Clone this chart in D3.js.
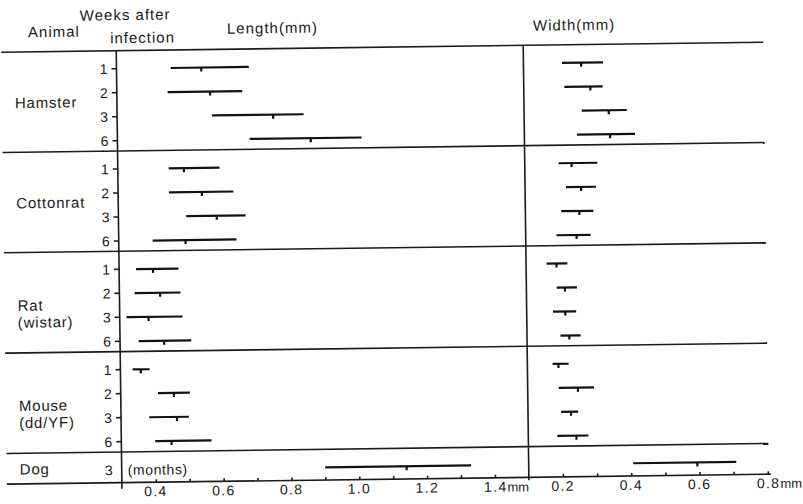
<!DOCTYPE html>
<html lang="en">
<head>
<meta charset="UTF-8">
<title>Length and width by animal</title>
<script src="https://d3js.org/d3.v7.min.js"></script>
<style>
  body { margin: 0; background: #fff; }
  svg { display: block; }
  text { font-family: "Liberation Sans", Arial, sans-serif; fill: #1b1b1b; }
  .rule { stroke: #1b1b1b; stroke-width: 1.6; fill: none; }
  .bar, .mean { stroke: #111; stroke-width: 2.2; }
</style>
</head>
<body>
<svg id="chart" width="803" height="504"></svg>
<script>
// sections
const animals = ["Hamster", "Cottonrat", "Rat\n(wistar)", "Mouse\n(dd/YF)", "Dog"];

// one entry per row: which animal, weeks after infection
const rowAnimal = [0, 0, 0, 0, 1, 1, 1, 1, 2, 2, 2, 2, 3, 3, 3, 3, 4];
const rowWeek   = ["1", "2", "3", "6", "1", "2", "3", "6", "1", "2", "3", "6", "1", "2", "3", "6", "3"];

// length (mm): range and mean
const lengthMin  = [0.46, 0.45, 0.58, 0.69, 0.45, 0.45, 0.50, 0.40, 0.35, 0.345, 0.32, 0.355, 0.336, 0.41, 0.383, 0.40, 0.90];
const lengthMean = [0.55, 0.575, 0.76, 0.87, 0.495, 0.547, 0.59, 0.497, 0.40, 0.42, 0.385, 0.43, 0.36, 0.457, 0.465, 0.448, 1.14];
const lengthMax  = [0.69, 0.67, 0.85, 1.02, 0.60, 0.64, 0.675, 0.647, 0.475, 0.48, 0.485, 0.51, 0.386, 0.504, 0.50, 0.566, 1.33];

// width (mm): range and mean
const widthMin  = [0.213, 0.219, 0.269, 0.254, 0.199, 0.22, 0.205, 0.19, 0.16, 0.189, 0.177, 0.198, 0.174, 0.191, 0.197, 0.185, 0.406];
const widthMean = [0.269, 0.295, 0.348, 0.351, 0.237, 0.264, 0.258, 0.249, 0.189, 0.213, 0.213, 0.224, 0.191, 0.247, 0.226, 0.241, 0.594];
const widthMax  = [0.333, 0.331, 0.401, 0.424, 0.313, 0.308, 0.299, 0.29, 0.221, 0.248, 0.245, 0.257, 0.221, 0.294, 0.247, 0.276, 0.708];

// axis ticks
const lengthTicks = [0.4, 0.6, 0.8, 1.0, 1.2, 1.4];
const lengthMinor = [0.5, 0.7, 0.9, 1.1, 1.3];
const widthTicks  = [0.2, 0.4, 0.6, 0.8];
const widthMinor  = [0.3, 0.5, 0.7];

const svg = d3.select("#chart");
// the original is a slightly tilted scan
const g = svg.append("g").attr("transform", "rotate(-0.75, 400, 260)");

const xL = d3.scaleLinear().domain([0.3, 1.5]).range([119, 526]);
const xW = d3.scaleLinear().domain([0.1, 0.8]).range([526, 765]);

// vertical position in "row units"
const span = 4.18, dogSpan = 1.28;
const y = d3.scaleLinear().domain([0, 4 * span + dogSpan]).range([47, 479]);
const secStart = s => s * span;
const secEnd = s => s < 4 ? (s + 1) * span : 4 * span + dogSpan;
const rowPos = rowAnimal.map((a, i) => secStart(a) + 0.75 + rowAnimal.slice(0, i).filter(v => v === a).length);

// horizontal rules
const ruleY = [0, 1, 2, 3, 4].map(secStart).concat([secEnd(4)]);
g.selectAll("line.h").data(ruleY).join("line")
  .attr("class", "rule")
  .attr("x1", 4).attr("x2", (d, i) => i === 5 ? 768 : 766)
  .attr("y1", d => y(d)).attr("y2", d => y(d));

// vertical rules
g.append("line").attr("class", "rule").attr("x1", xL(0.3)).attr("x2", xL(0.3)).attr("y1", y(0)).attr("y2", y(secEnd(4)) + 6);
g.append("line").attr("class", "rule").attr("x1", xW(0.1)).attr("x2", xW(0.1)).attr("y1", y(0)).attr("y2", y(secEnd(4)) + 3);

// header
const head = g.append("g").style("font-size", "15px").style("letter-spacing", "1px");
head.append("text").attr("x", 31).attr("y", 32.5).text("Animal");
head.append("text").attr("x", 83).attr("y", 16.5).text("Weeks after");
head.append("text").attr("x", 113).attr("y", 39.5).text("infection");
head.append("text").attr("x", 230).attr("y", 31.5).text("Length(mm)");
head.append("text").attr("x", 536).attr("y", 32.5).text("Width(mm)");

// animal names
animals.forEach((name, s) => {
  const lines = name.split("\n");
  const cy = y((secStart(s) + secEnd(s)) / 2);
  const base = lines.length > 1 ? cy + 8 : cy + 6;
  const t = g.append("text").attr("x", 17).attr("y", base)
    .style("font-size", "15px").style("letter-spacing", "0.8px");
  lines.forEach((l, k) => t.append("tspan").attr("x", 17).attr("dy", k ? 17 : 0).text(l));
});

// week labels and small ticks
g.selectAll("text.wk").data(rowWeek).join("text")
  .attr("class", "wk")
  .attr("x", 110).attr("y", (d, i) => y(rowPos[i])).attr("dy", "0.36em")
  .attr("text-anchor", "end").style("font-size", "14px")
  .text(d => d);
g.selectAll("line.wt").data(rowPos.filter((d, i) => rowAnimal[i] < 4)).join("line")
  .attr("class", "rule")
  .attr("x1", xL(0.3) - 5).attr("x2", xL(0.3))
  .attr("y1", d => y(d)).attr("y2", d => y(d));
g.append("text").attr("x", 125).attr("y", y(rowPos[16])).attr("dy", "0.36em")
  .style("font-size", "14px").style("letter-spacing", "0.6px").text("(months)");

// range bars with a small tick at the mean
function drawBars(x, mins, means, maxs, cls) {
  g.selectAll("line.bar." + cls).data(rowPos).join("line")
    .attr("class", "bar " + cls)
    .attr("x1", (d, i) => x(mins[i])).attr("x2", (d, i) => x(maxs[i]))
    .attr("y1", d => y(d)).attr("y2", d => y(d));
  g.selectAll("line.mean." + cls).data(rowPos).join("line")
    .attr("class", "mean " + cls)
    .attr("x1", (d, i) => x(means[i])).attr("x2", (d, i) => x(means[i]))
    .attr("y1", d => y(d)).attr("y2", d => y(d) + 4);
}
drawBars(xL, lengthMin, lengthMean, lengthMax, "len");
drawBars(xW, widthMin, widthMean, widthMax, "wid");

// bottom axes
const base = y(secEnd(4));
function drawAxis(x, major, minor, lastUnit) {
  const ax = g.append("g").attr("transform", `translate(0,${base})`);
  ax.call(d3.axisBottom(x).tickValues(major.concat(minor)).tickSize(-3).tickFormat(""))
    .call(a => a.select(".domain").remove());
  ax.selectAll(".tick line").attr("stroke", "#1b1b1b").attr("stroke-width", 1.6);
  const last = major.length - 1;
  const lab = ax.selectAll("text.lab").data(major).join("text")
    .attr("class", "lab")
    .attr("x", (d, i) => i === last ? x(d) - 11 : x(d))
    .attr("y", 4).attr("dy", "0.71em")
    .attr("text-anchor", (d, i) => i === last ? "start" : "middle")
    .style("font-size", "14px").style("letter-spacing", "1.3px")
    .text(d => d3.format(".1f")(d));
  lab.filter((d, i) => i === last).append("tspan")
    .style("letter-spacing", "0px").style("font-size", "13px").text(lastUnit);
}
drawAxis(xL, lengthTicks, lengthMinor, "mm");
drawAxis(xW, widthTicks, widthMinor, "mm");
</script>
</body>
</html>
